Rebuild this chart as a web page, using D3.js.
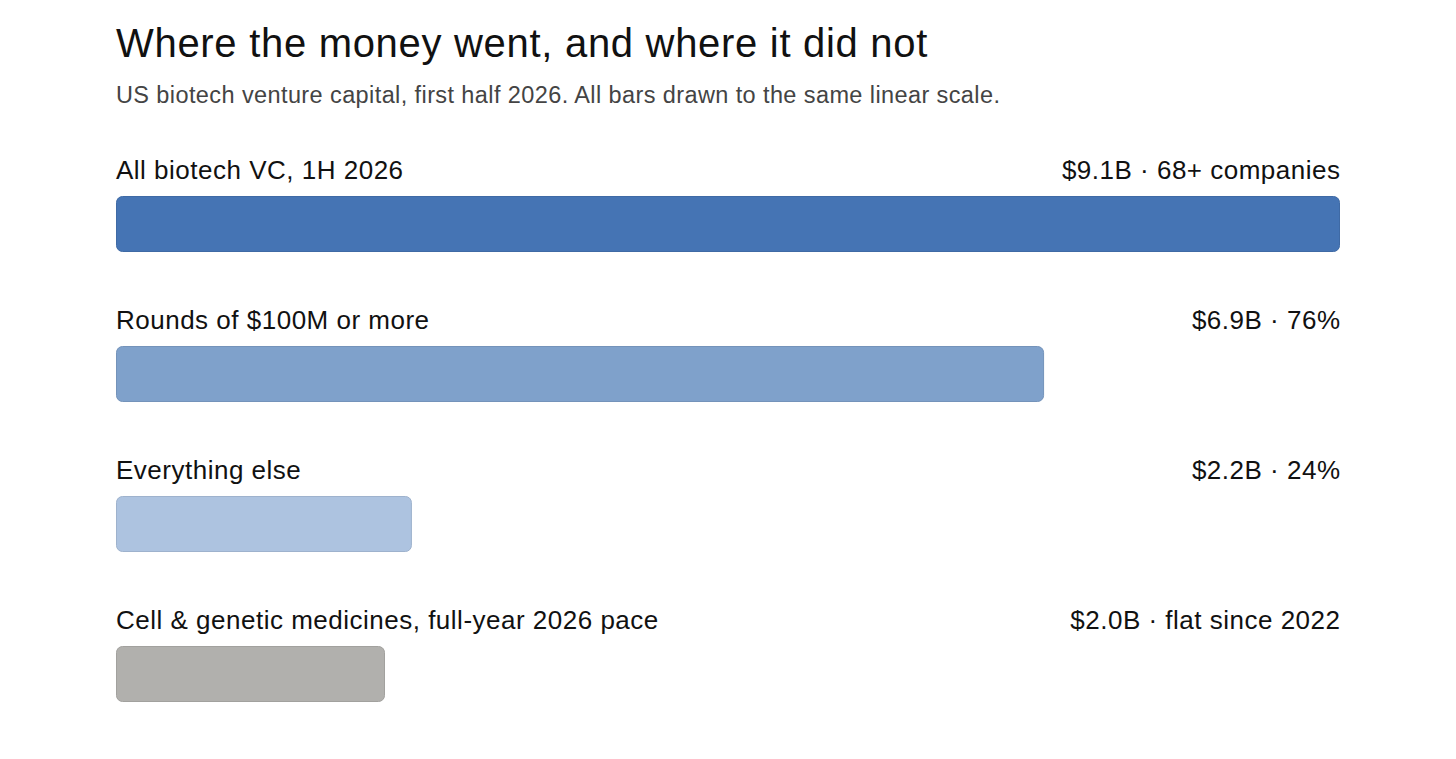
<!DOCTYPE html>
<html lang="en">
<head>
    <meta charset="UTF-8">
    <title>Where the money went</title>
    <script src="https://d3js.org/d3.v7.min.js"></script>
    <style>
        body {
            margin: 0;
            background: #fff;
            font-family: "Liberation Sans", Arial, sans-serif;
        }
        .title { font-size: 40px; fill: #111; letter-spacing: 0.7px; }
        .subtitle { font-size: 23.5px; fill: #444; letter-spacing: 0.4px; }
        .label { font-size: 26px; fill: #111; letter-spacing: 0.5px; }
    </style>
</head>
<body>
    <svg width="1456" height="759"></svg>
    <script>
        const categories = [
            "All biotech VC, 1H 2026",
            "Rounds of $100M or more",
            "Everything else",
            "Cell & genetic medicines, full-year 2026 pace"
        ];
        const values = [9.1, 6.9, 2.2, 2.0];
        const valueLabels = [
            "$9.1B · 68+ companies",
            "$6.9B · 76%",
            "$2.2B · 24%",
            "$2.0B · flat since 2022"
        ];
        const colors = ["#4574b4", "#7fa1cb", "#adc3e0", "#b1b0ad"];

        const data = categories.map((c, i) => ({
            name: c, value: values[i], label: valueLabels[i], color: colors[i]
        }));

        const svg = d3.select("svg"),
            left = 116,
            right = 1340,
            barTop = 196,
            rowStep = 150,
            barH = 56;

        svg.append("text")
            .attr("class", "title")
            .attr("x", left)
            .attr("y", 57)
            .text("Where the money went, and where it did not");

        svg.append("text")
            .attr("class", "subtitle")
            .attr("x", left)
            .attr("y", 103)
            .text("US biotech venture capital, first half 2026. All bars drawn to the same linear scale.");

        const x = d3.scaleLinear()
            .domain([0, d3.max(values)])
            .range([left, right]);

        const y = d3.scaleBand()
            .domain(categories)
            .range([barTop, barTop + rowStep * categories.length])
            .padding(0);

        const rows = svg.selectAll(".row")
            .data(data)
            .enter()
            .append("g")
            .attr("class", "row");

        rows.append("rect")
            .attr("x", x(0) + 0.5)
            .attr("y", d => y(d.name) + 0.5)
            .attr("width", d => x(d.value) - x(0) - 1)
            .attr("height", barH - 1)
            .attr("rx", 6)
            .attr("fill", d => d.color)
            .attr("stroke", d => d3.color(d.color).darker(0.25))
            .attr("stroke-width", 1);

        rows.append("text")
            .attr("class", "label")
            .attr("x", left)
            .attr("y", d => y(d.name) - 17)
            .text(d => d.name);

        // letter-spacing adds trailing space after the last glyph, nudge it back
        rows.append("text")
            .attr("class", "label")
            .attr("x", right + 0.5)
            .attr("y", d => y(d.name) - 17)
            .attr("text-anchor", "end")
            .text(d => d.label);
    </script>
</body>
</html>
